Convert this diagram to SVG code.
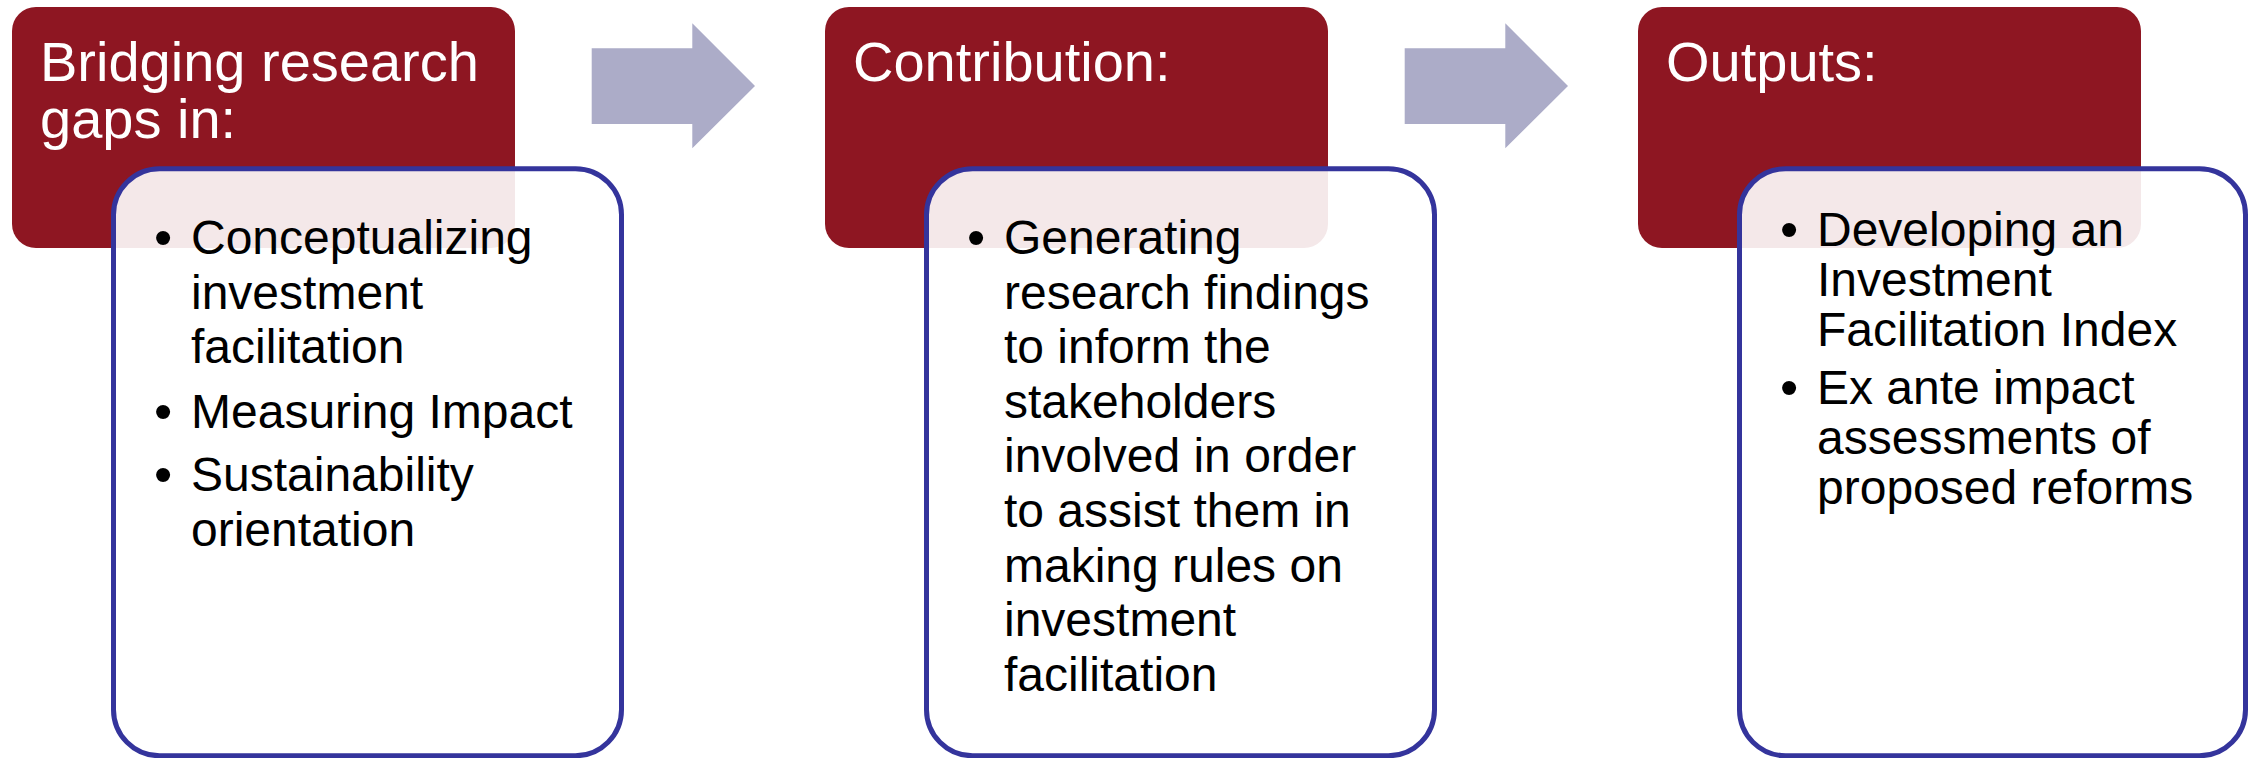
<svg xmlns="http://www.w3.org/2000/svg" width="2249" height="758" viewBox="0 0 2249 758">
<style>
.hdr{fill:#8E1622;}
.box{fill:#FFFFFF;fill-opacity:0.9;stroke:#34349C;stroke-width:5;}
.arrow{fill:#ACACC8;}
.title{font-family:"Liberation Sans",Arial,sans-serif;font-size:56px;fill:#FFFFFF;}
.body{font-family:"Liberation Sans",Arial,sans-serif;font-size:48px;fill:#000000;}
.bul{font-family:"Liberation Sans",Arial,sans-serif;font-size:52px;fill:#000000;}
</style>
<rect width="2249" height="758" fill="#FFFFFF"/>
<g id="connectors">
<polygon class="arrow" points="591.7,48.3 692.3,48.3 692.3,23.3 755,86 692.3,148.3 692.3,124 591.7,124"/>
<polygon class="arrow" points="1404.7,48.3 1505.3,48.3 1505.3,23.3 1568,86 1505.3,148.3 1505.3,124 1404.7,124"/>
</g>
<g id="node1">
<rect class="hdr" x="12" y="7" width="503" height="241" rx="24"/>
<text class="title"><tspan x="40" y="81">Bridging research</tspan><tspan x="40" y="137.5">gaps in:</tspan></text>
<rect class="box" x="113.5" y="168.7" width="508" height="587" rx="46"/>
<text class="bul" x="154" y="255">•</text>
<text class="bul" x="154" y="429">•</text>
<text class="bul" x="154" y="492">•</text>
<text class="body"><tspan x="191" y="254">Conceptualizing</tspan><tspan x="191" y="308.6">investment</tspan><tspan x="191" y="363.2">facilitation</tspan><tspan x="191" y="428">Measuring Impact</tspan><tspan x="191" y="491">Sustainability</tspan><tspan x="191" y="545.6">orientation</tspan></text>
</g>
<g id="node2">
<rect class="hdr" x="825" y="7" width="503" height="241" rx="24"/>
<text class="title" x="853" y="81">Contribution:</text>
<rect class="box" x="926.5" y="168.7" width="508" height="587" rx="46"/>
<text class="bul" x="967" y="255">•</text>
<text class="body"><tspan x="1004" y="254">Generating</tspan><tspan x="1004" y="308.6">research findings</tspan><tspan x="1004" y="363.2">to inform the</tspan><tspan x="1004" y="417.8">stakeholders</tspan><tspan x="1004" y="472.4">involved in order</tspan><tspan x="1004" y="527">to assist them in</tspan><tspan x="1004" y="581.6">making rules on</tspan><tspan x="1004" y="636.2">investment</tspan><tspan x="1004" y="690.8">facilitation</tspan></text>
</g>
<g id="node3">
<rect class="hdr" x="1638" y="7" width="503" height="241" rx="24"/>
<text class="title" x="1666" y="81">Outputs:</text>
<rect class="box" x="1739.5" y="168.7" width="506" height="587" rx="46"/>
<text class="bul" x="1780" y="247">•</text>
<text class="bul" x="1780" y="405">•</text>
<text class="body"><tspan x="1817" y="246">Developing an</tspan><tspan x="1817" y="296">Investment</tspan><tspan x="1817" y="346">Facilitation Index</tspan><tspan x="1817" y="404">Ex ante impact</tspan><tspan x="1817" y="454">assessments of</tspan><tspan x="1817" y="504">proposed reforms</tspan></text>
</g>
</svg>
